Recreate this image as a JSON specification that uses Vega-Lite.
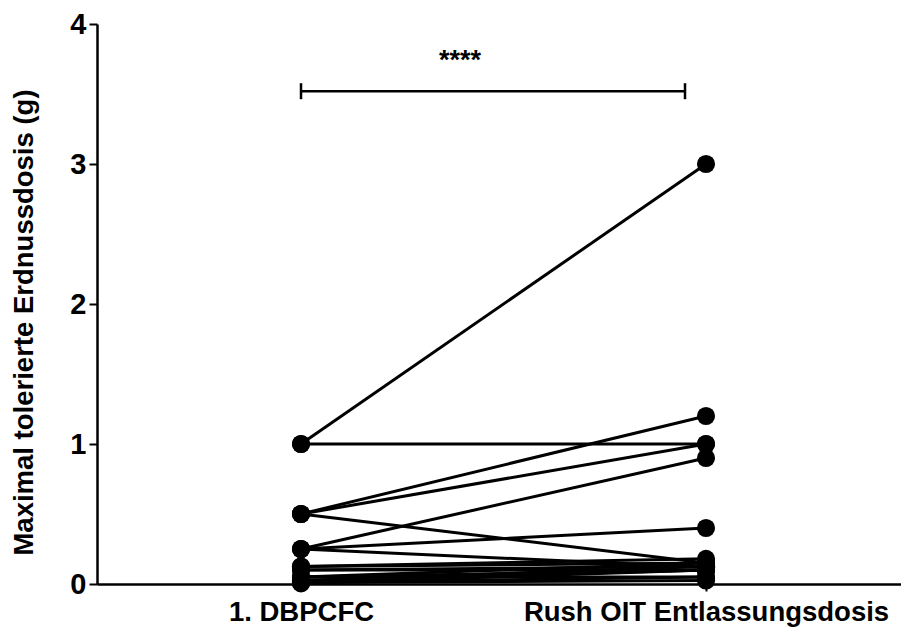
{
  "$schema": "https://vega.github.io/schema/vega-lite/v6.json",
  "autosize": "none",
  "width": 804,
  "height": 560,
  "padding": {"left": 97, "top": 24, "right": 0, "bottom": 45},
  "background": "white",
  "config": {
    "view": {"stroke": null},
    "font": "Liberation Sans",
    "axis": {"domainColor": "black", "tickColor": "black", "labelColor": "black", "titleColor": "black", "grid": false}
  },
  "datasets": {
    "subjects": [
      {"id": 1, "group": "1. DBPCFC", "dose": 1.0}, {"id": 1, "group": "Rush OIT Entlassungsdosis", "dose": 3.0},
      {"id": 2, "group": "1. DBPCFC", "dose": 1.0}, {"id": 2, "group": "Rush OIT Entlassungsdosis", "dose": 1.0},
      {"id": 3, "group": "1. DBPCFC", "dose": 0.5}, {"id": 3, "group": "Rush OIT Entlassungsdosis", "dose": 1.2},
      {"id": 4, "group": "1. DBPCFC", "dose": 0.5}, {"id": 4, "group": "Rush OIT Entlassungsdosis", "dose": 1.0},
      {"id": 5, "group": "1. DBPCFC", "dose": 0.5}, {"id": 5, "group": "Rush OIT Entlassungsdosis", "dose": 0.15},
      {"id": 6, "group": "1. DBPCFC", "dose": 0.25}, {"id": 6, "group": "Rush OIT Entlassungsdosis", "dose": 0.9},
      {"id": 7, "group": "1. DBPCFC", "dose": 0.25}, {"id": 7, "group": "Rush OIT Entlassungsdosis", "dose": 0.4},
      {"id": 8, "group": "1. DBPCFC", "dose": 0.25}, {"id": 8, "group": "Rush OIT Entlassungsdosis", "dose": 0.12},
      {"id": 9, "group": "1. DBPCFC", "dose": 0.125}, {"id": 9, "group": "Rush OIT Entlassungsdosis", "dose": 0.18},
      {"id": 10, "group": "1. DBPCFC", "dose": 0.125}, {"id": 10, "group": "Rush OIT Entlassungsdosis", "dose": 0.15},
      {"id": 11, "group": "1. DBPCFC", "dose": 0.1}, {"id": 11, "group": "Rush OIT Entlassungsdosis", "dose": 0.125},
      {"id": 12, "group": "1. DBPCFC", "dose": 0.1}, {"id": 12, "group": "Rush OIT Entlassungsdosis", "dose": 0.1},
      {"id": 13, "group": "1. DBPCFC", "dose": 0.05}, {"id": 13, "group": "Rush OIT Entlassungsdosis", "dose": 0.15},
      {"id": 14, "group": "1. DBPCFC", "dose": 0.05}, {"id": 14, "group": "Rush OIT Entlassungsdosis", "dose": 0.1},
      {"id": 15, "group": "1. DBPCFC", "dose": 0.05}, {"id": 15, "group": "Rush OIT Entlassungsdosis", "dose": 0.05},
      {"id": 16, "group": "1. DBPCFC", "dose": 0.025}, {"id": 16, "group": "Rush OIT Entlassungsdosis", "dose": 0.125},
      {"id": 17, "group": "1. DBPCFC", "dose": 0.025}, {"id": 17, "group": "Rush OIT Entlassungsdosis", "dose": 0.1},
      {"id": 18, "group": "1. DBPCFC", "dose": 0.01}, {"id": 18, "group": "Rush OIT Entlassungsdosis", "dose": 0.05},
      {"id": 19, "group": "1. DBPCFC", "dose": 0.01}, {"id": 19, "group": "Rush OIT Entlassungsdosis", "dose": 0.025},
      {"id": 20, "group": "1. DBPCFC", "dose": 0.005}, {"id": 20, "group": "Rush OIT Entlassungsdosis", "dose": 0.1}
    ],
    "sig": [
      {"from": "1. DBPCFC", "to": "Rush OIT Entlassungsdosis", "y": 3.52, "label": "****"}
    ]
  },
  "encoding": {
    "x": {
      "field": "group", "type": "nominal",
      "scale": {"type": "point", "domain": ["1. DBPCFC", "Rush OIT Entlassungsdosis"], "padding": 0.4926, "align": 0.5113},
      "axis": {"title": null, "labelAngle": 0, "labelFontSize": 27.5, "labelFontWeight": "bold", "labelPadding": 7, "labelLimit": 0, "tickSize": 7, "tickWidth": 2, "domainWidth": 2.5}
    }
  },
  "layer": [
    {
      "data": {"name": "subjects"},
      "mark": {"type": "line", "color": "black", "strokeWidth": 3},
      "encoding": {
        "y": {
          "field": "dose", "type": "quantitative",
          "scale": {"domain": [0, 4], "nice": false, "zero": true},
          "axis": {"values": [0, 1, 2, 3, 4], "format": "d", "title": "Maximal tolerierte Erdnussdosis (g)", "titleFontSize": 27.5, "titleFontWeight": "bold", "titlePadding": 31, "titleY": 298, "labelFontSize": 29, "labelFontWeight": "bold", "labelPadding": 3, "tickSize": 8, "tickWidth": 2, "domainWidth": 2.5}
        },
        "detail": {"field": "id", "type": "nominal"}
      }
    },
    {
      "data": {"name": "subjects"},
      "mark": {"type": "point", "shape": "circle", "filled": true, "color": "black", "opacity": 1, "size": 330},
      "encoding": {
        "y": {"field": "dose", "type": "quantitative"}
      }
    },
    {
      "data": {"name": "sig"},
      "mark": {"type": "rule", "color": "black", "strokeWidth": 2.5, "x2Offset": -21},
      "encoding": {
        "x": {"field": "from", "type": "nominal"},
        "x2": {"field": "to"},
        "y": {"field": "y", "type": "quantitative"}
      }
    },
    {
      "data": {"name": "sig"},
      "mark": {"type": "tick", "orient": "vertical", "color": "black", "thickness": 2.5, "size": 16, "opacity": 1},
      "encoding": {
        "x": {"field": "from", "type": "nominal"},
        "y": {"field": "y", "type": "quantitative"}
      }
    },
    {
      "data": {"name": "sig"},
      "mark": {"type": "tick", "orient": "vertical", "color": "black", "thickness": 2.5, "size": 16, "opacity": 1, "xOffset": -21},
      "encoding": {
        "x": {"field": "to", "type": "nominal"},
        "y": {"field": "y", "type": "quantitative"}
      }
    },
    {
      "data": {"name": "sig"},
      "mark": {"type": "text", "color": "black", "fontSize": 27, "fontWeight": "bold", "dx": 159, "dy": -30},
      "encoding": {
        "x": {"field": "from", "type": "nominal"},
        "y": {"field": "y", "type": "quantitative"},
        "text": {"field": "label"}
      }
    }
  ]
}
